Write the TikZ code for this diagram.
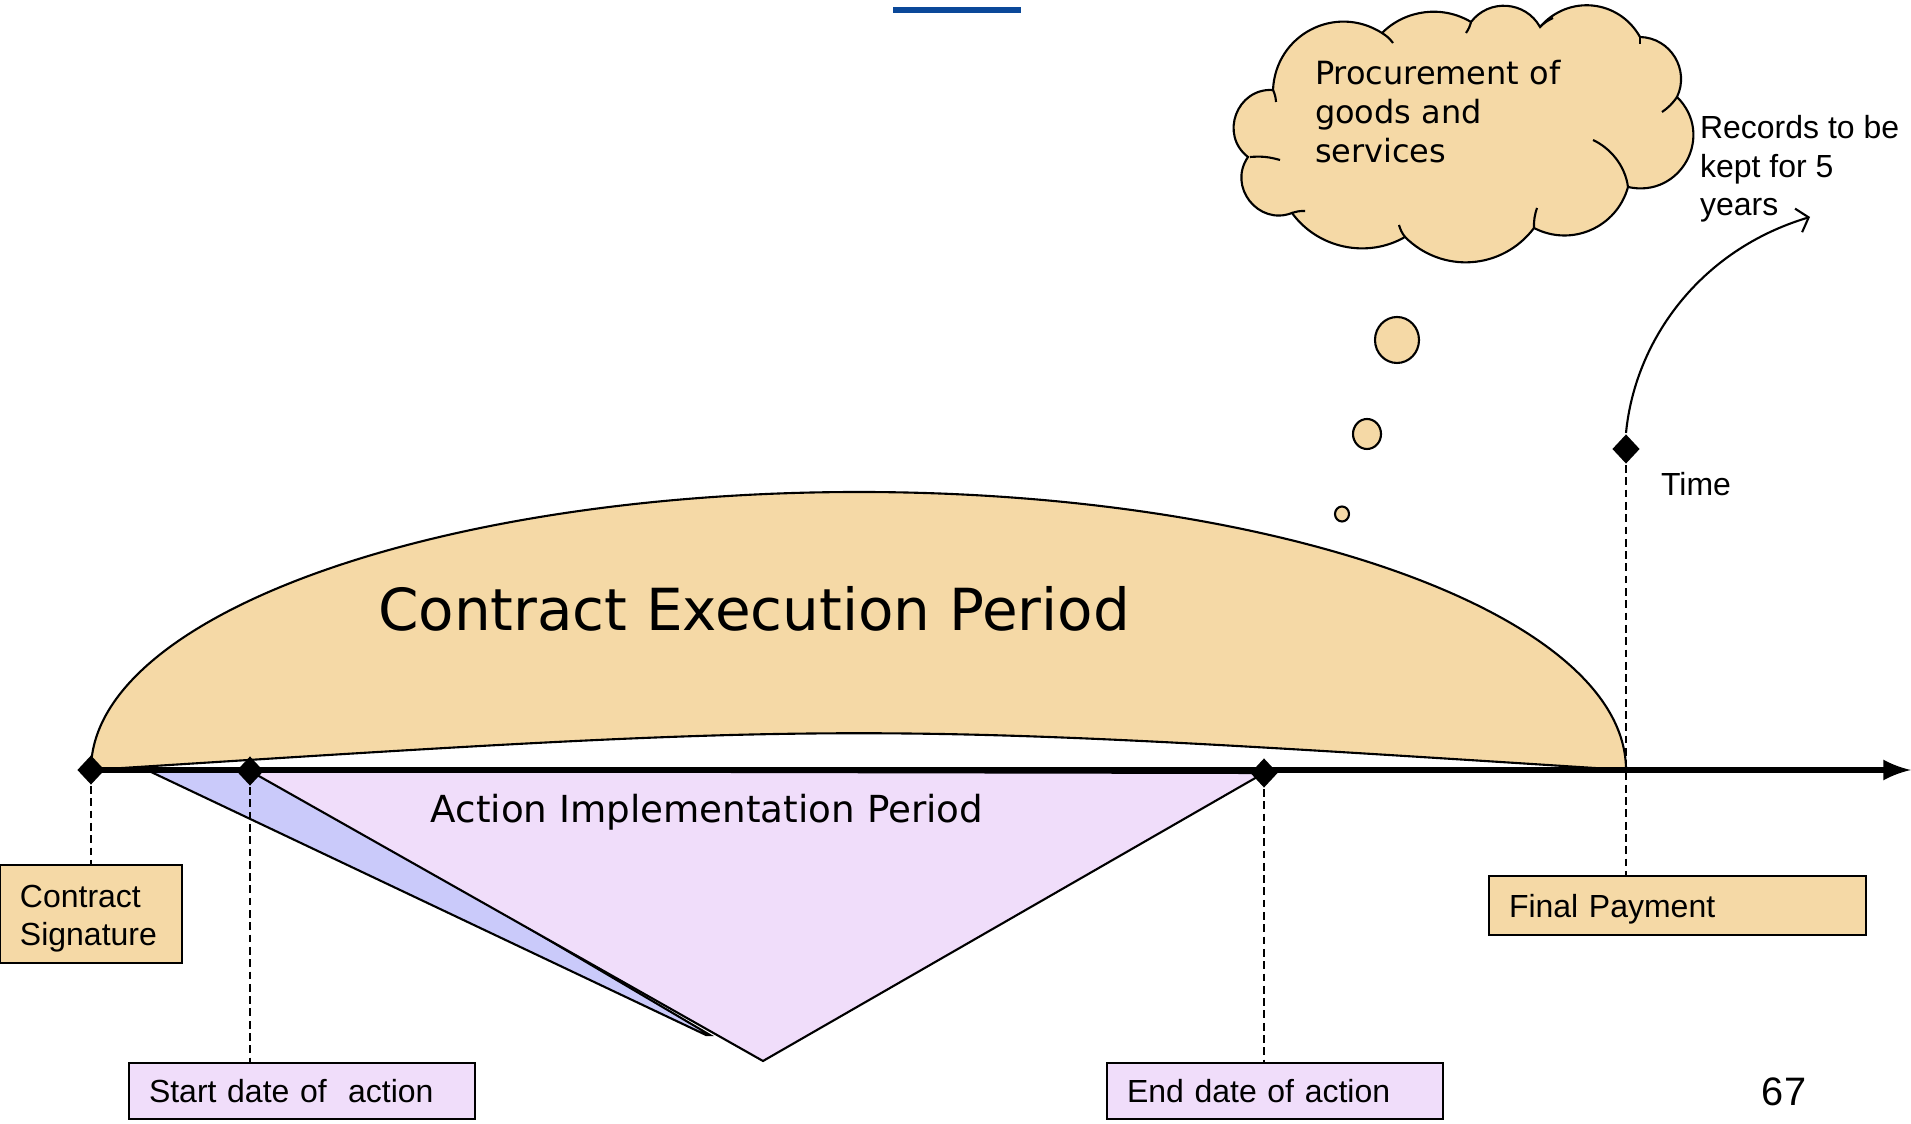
\documentclass[tikz,border=0pt]{standalone}
\usepackage{fontspec}
\setmainfont{Liberation Sans}
\newfontfamily\verd{DejaVu Sans}
\usetikzlibrary{shapes.geometric}
\usetikzlibrary{arrows,arrows.meta,positioning}
\definecolor{beige}{RGB}{245,217,166}
\definecolor{mauve}{RGB}{240,221,250}
\definecolor{lila}{RGB}{202,202,250}
\definecolor{barre}{RGB}{10,72,153}
\newcommand\petit{\fontsize{9.1}{11}\selectfont}

\begin{document}
\begin{tikzpicture}[x=1cm,y=-1cm,line width=.6pt]%
        \useasboundingbox (0,0) rectangle (19.11,11.24);%%
        \fill[barre] (8.93,0.07) rectangle (10.21,0.13);%%
        \coordinate (cs) at (0.91,7.70); %%
        \coordinate (sa) at (2.50,7.71); %%
        \coordinate (ea) at (12.64,7.73); %%
        \coordinate (fp) at (16.26,7.70); %%
        \coordinate (tend) at (19.11,7.70); %%
        % contract execution period
        \filldraw[fill=beige] (cs) .. controls (0.91,6.16) and (4.35,4.92) .. (8.59,4.92)
                .. controls (12.83,4.92) and (16.26,6.16) .. (fp)
                .. controls (8.59,7.21) .. (cs) -- cycle; %%
        % action implementation period
        \filldraw[fill=lila] (1.49,7.71) -- (2.62,7.71) -- (7.10,10.35) -- (7.06,10.35) -- cycle; %%
        \filldraw[fill=mauve] (sa) -- (ea) -- (7.63,10.61) -- cycle; %%
        \draw[-latex,line width=1.7pt] (cs) -- (tend); %%
        \node[font=\verd\fontsize{16.5}{20}\selectfont] (cep) at (7.54,6.09) {Contract Execution Period}; %%
        \node[font=\verd\fontsize{10.6}{13}\selectfont] (aip) at (7.07,8.12) {Action Implementation Period}; %%
        \begin{scope}[shape=diamond,inner sep=0pt,fill=black]
        \tikzstyle{every node}=[fill,minimum width=.28cm,minimum height=.30cm] %%
        \node (dcs) at (cs) {}; %%
        \node (dsa) at (sa) {}; %%
        \node (dea) at (ea) {}; %%
        \node (dfp) at (16.26,4.49) {}; %%
        \end{scope}
        \begin{scope}[shape=rectangle,inner xsep=.2cm,inner ysep=0pt]
        \tikzstyle{every node}=[draw,font=\petit,align=left] %%
        \node[fill=beige,text width=1.42cm,minimum height=.98cm,text depth=10.3pt] (bcs) at (0.91,9.14) {Contract\\Signature}; %%
        \node[fill=mauve,text width=3.06cm,minimum height=.56cm] (bsa) at (3.02,10.91) {Start date of \ action}; %%
        \node[fill=mauve,text width=2.96cm,minimum height=.56cm] (bea) at (12.75,10.91) {End date of action}; %%
        \node[fill=beige,text width=3.37cm,minimum height=.59cm,text depth=0pt] (bfp) at (16.775,9.055) {Final Payment}; %%
        \end{scope}
        \draw[dash pattern=on 2.2pt off 1.3pt,line width=.45pt] (dcs) -- (bcs.north); %%
        \draw[dash pattern=on 2.2pt off 1.3pt,line width=.45pt] (dsa) -- (dsa |- bsa.north); %%
        \draw[dash pattern=on 2.2pt off 1.3pt,line width=.45pt] (dea) -- (dea |- bea.north); %%
        \draw[dash pattern=on 2.2pt off 1.3pt,line width=.45pt] (dfp) -- (dfp |- bfp.north); %%
        \node[font=\petit,anchor=west,inner sep=0pt] (time) at (16.60,4.84) {Time}; %%
        \node[font=\petit,anchor=west,align=left,inner sep=0pt] (rec) at (16.99,1.69) {Records to be\\kept for 5\\years}; %%
        \coordinate (rend) at (18.10,2.17); %%
        \draw[-{Straight Barb[length=3pt,width=7pt]}] (dfp.north) .. controls (16.35,3.40) and (17.00,2.50) .. (rend); %%
        % thought cloud
        \filldraw[fill=beige] (12.73,0.90) to[bend right=73,looseness=1.3] (12.48,1.57)
                to[bend right=73,looseness=1.3] (12.92,2.13) to[bend right=42,looseness=.97] (14.05,2.37)
                to[bend right=49,looseness=1.04] (15.34,2.28) to[bend right=51,looseness=1.05] (16.28,1.87)
                to[bend right=74,looseness=1.35] (16.77,0.97) to[bend right=57,looseness=1.1] (16.40,0.37)
                to[bend right=55,looseness=1.1] (15.40,0.27) to[bend right=57,looseness=1.1] (14.71,0.22)
                to[bend right=38,looseness=.95] (13.82,0.33) to[bend right=60,looseness=1.15] (12.73,0.90) -- cycle; %%
        \draw (12.73,0.90) to[bend left=10] (12.76,1.02); %%
        \draw (12.50,1.57) to[bend left=10] (12.80,1.60); %%
        \draw (12.92,2.13) to[bend left=10] (13.05,2.11); %%
        \draw (14.05,2.37) to[bend left=10] (13.99,2.25); %%
        \draw (15.34,2.28) to[bend left=10] (15.37,2.08); %%
        \draw (16.28,1.87) .. controls (16.25,1.65) and (16.10,1.48) .. (15.93,1.40); %%
        \draw (16.77,0.97) to[bend left=10] (16.62,1.12); %%
        \draw (16.40,0.37) to[bend left=10] (16.40,0.44); %%
        \draw (15.40,0.27) to[bend left=10] (15.53,0.18); %%
        \draw (14.71,0.22) to[bend left=10] (14.66,0.33); %%
        \draw (13.82,0.33) to[bend left=10] (13.93,0.43); %%
        \node[font=\verd\fontsize{9.1}{11.1}\selectfont,anchor=west,align=left,inner sep=0pt] (proc) at (13.14,1.12) {Procurement of\\goods and\\services}; %%
        \filldraw[fill=beige] (13.97,3.40) ellipse (.22 and .23); %%
        \filldraw[fill=beige] (13.67,4.34) ellipse (.14 and .15); %%
        \filldraw[fill=beige] (13.42,5.14) ellipse (.07 and .075); %%
        \node[font=\fontsize{11.3}{13}\selectfont,inner sep=0pt] (page) at (17.84,10.92) {67}; %%
\end{tikzpicture}
\end{document}
